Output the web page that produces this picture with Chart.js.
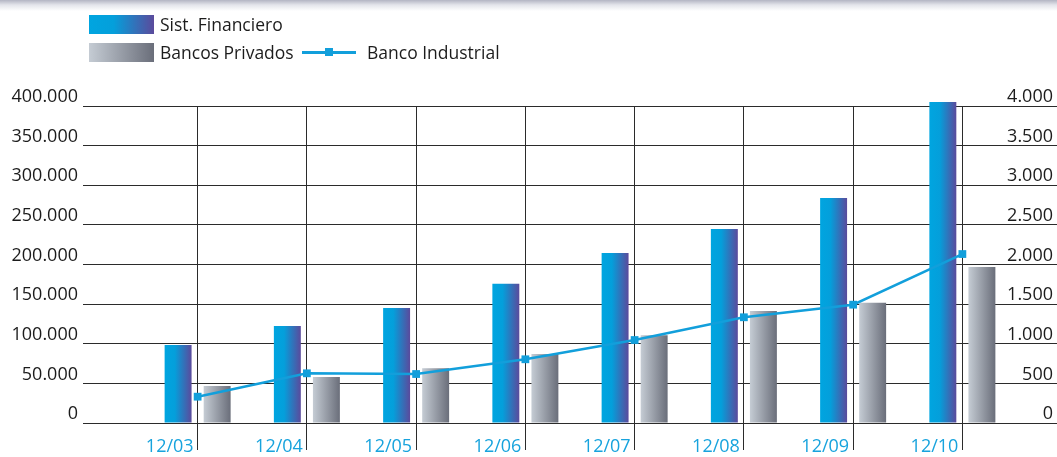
<!DOCTYPE html>
<html>
<head>
<meta charset="utf-8">
<script src="https://cdn.jsdelivr.net/npm/chart.js@4.4.1/dist/chart.umd.min.js"></script>
<style>
  html, body { margin: 0; padding: 0; }
  body {
    width: 1057px; height: 457px; overflow: hidden; position: relative;
    background: linear-gradient(to bottom, #b3b5c3 0px, #e4e5eb 5px, #ffffff 11px) no-repeat;
    font-family: 'Open Sans', sans-serif; color: #1c1c1c;
  }
  #box { position: absolute; left: 0; top: 0; width: 1057px; height: 457px; }
  .item { position: absolute; display: flex; align-items: center; font-size: 17.5px; line-height: 19px; height: 20px; white-space: nowrap; }
  .item .sw { width: 65px; height: 19px; margin-right: 6px; }
  .item .ln { width: 54px; height: 20px; margin-right: 11px; position: relative; }
  .item .ln::before { content: ''; position: absolute; left: 0; right: 0; top: 9px; height: 3px; background: #129fdb; }
  .item .ln::after { content: ''; position: absolute; left: 23px; top: 6px; width: 8px; height: 8px; background: #129fdb; }
</style>
</head>
<body>
<div id="box"><canvas id="chart" width="1057" height="457"></canvas></div>
<div id="legend"></div>
<script>
const categories = ['12/03', '12/04', '12/05', '12/06', '12/07', '12/08', '12/09', '12/10'];
const sistFinanciero = [98400, 122400, 145100, 175800, 214500, 244800, 283900, 405000];
const bancosPrivados = [46700, 58000, 69000, 87000, 110700, 141300, 151800, 196800];
const bancoIndustrial = [332, 627, 618, 804, 1047, 1334, 1493, 2132];

const sfStops = [[0, '#00a5e0'], [0.38, '#049fdb'], [1, '#5b4a9c']];
const bpStops = [[0, '#c5ccd4'], [1, '#6a6e7a']];
const gridColor = '#2b2b2b';

function fmt(v) {
    return String(v).replace(/\B(?=(\d{3})+(?!\d))/g, '.');
}

function barGradient(stops) {
    return function (ctx) {
        const el = ctx.element;
        if (!el || !isFinite(el.x) || !el.width) return stops[0][1];
        const g = ctx.chart.ctx.createLinearGradient(el.x - el.width / 2, 0, el.x + el.width / 2, 0);
        stops.forEach(s => g.addColorStop(s[0], s[1]));
        return g;
    };
}

const chart = new Chart(document.getElementById('chart'), {
    type: 'bar',
    data: {
        labels: categories,
        datasets: [{
            label: 'Sist. Financiero',
            data: sistFinanciero,
            backgroundColor: barGradient(sfStops),
            yAxisID: 'y',
            order: 1,
            clip: false,
            categoryPercentage: 0.715,
            barPercentage: 0.69
        }, {
            label: 'Bancos Privados',
            data: bancosPrivados,
            backgroundColor: barGradient(bpStops),
            yAxisID: 'y',
            order: 1,
            clip: false,
            categoryPercentage: 0.715,
            barPercentage: 0.69
        }, {
            type: 'line',
            label: 'Banco Industrial',
            data: bancoIndustrial,
            yAxisID: 'y1',
            order: 0,
            borderColor: '#129fdb',
            borderWidth: 2.5,
            pointStyle: 'rect',
            pointRadius: 5.5,
            pointBorderWidth: 0,
            pointBackgroundColor: '#129fdb',
            tension: 0,
            clip: false
        }]
    },
    options: {
        responsive: false,
        animation: false,
        layout: { padding: { top: 106, bottom: 0, left: 0, right: 0 } },
        plugins: { legend: { display: false }, tooltip: { enabled: false } },
        scales: {
            x: {
                offset: true,
                border: { display: false },
                grid: { offset: false, color: gridColor, lineWidth: 1, tickLength: 27, tickColor: gridColor },
                ticks: {
                    align: 'end', labelOffset: -4, padding: -14,
                    color: '#17a3dd', font: { family: 'Open Sans', size: 18 },
                    autoSkip: false, maxRotation: 0
                },
                afterFit: s => { s.height = 34; }
            },
            y: {
                position: 'left', min: 0, max: 400000,
                border: { display: false },
                grid: { color: gridColor, lineWidth: 1, tickLength: 60, tickColor: gridColor },
                ticks: {
                    stepSize: 50000, padding: 5, labelOffset: -9,
                    color: '#1c1c1c', font: { family: 'Open Sans', size: 18 },
                    callback: v => fmt(v)
                },
                afterFit: s => { s.width = 143; }
            },
            y1: {
                position: 'right', min: 0, max: 4000,
                border: { display: false },
                grid: { drawOnChartArea: false, color: gridColor, lineWidth: 1, tickLength: 40, tickColor: gridColor },
                ticks: {
                    stepSize: 500, mirror: true, padding: 36, labelOffset: -9,
                    color: '#1c1c1c', font: { family: 'Open Sans', size: 18 },
                    callback: v => fmt(v)
                },
                afterFit: s => { s.width = 40; s.paddingTop = 0; s.paddingBottom = 0; }
            }
        }
    }
});
chart.update();

// legend built from the chart's datasets
const legendPos = [[89, 14], [89, 42], [302, 42]];
const legendEl = document.getElementById('legend');
chart.data.datasets.forEach((ds, i) => {
    const it = document.createElement('div');
    it.className = 'item';
    it.style.left = legendPos[i][0] + 'px';
    it.style.top = legendPos[i][1] + 'px';
    const sw = document.createElement('div');
    if (ds.type === 'line') {
        sw.className = 'ln';
    } else {
        sw.className = 'sw';
        const stops = i === 0 ? sfStops : bpStops;
        sw.style.background = 'linear-gradient(to right,' + stops.map(s => s[1] + ' ' + (s[0] * 100) + '%').join(',') + ')';
    }
    it.appendChild(sw);
    const tx = document.createElement('span');
    tx.textContent = ds.label;
    it.appendChild(tx);
    legendEl.appendChild(it);
});
</script>
</body>
</html>
